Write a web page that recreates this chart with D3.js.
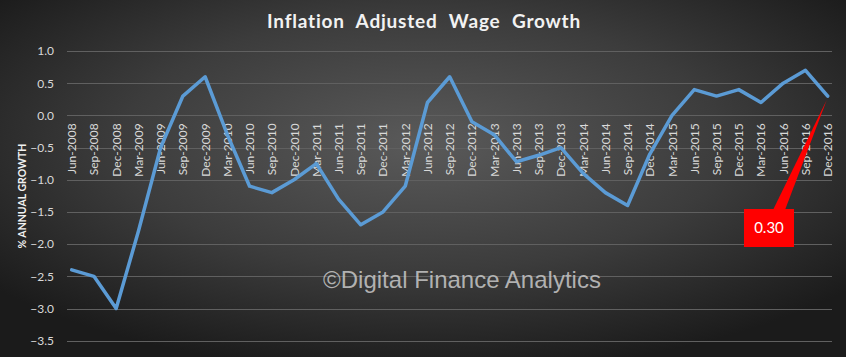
<!DOCTYPE html>
<html>
<head>
<meta charset="utf-8">
<script src="https://cdn.jsdelivr.net/npm/d3@7"></script>
<style>
  html, body { margin: 0; padding: 0; background: #1e1e1e; }
  svg { display: block; }
</style>
</head>
<body>
<svg id="chart" width="846" height="357"></svg>
<script>
const categories = ["Jun-2008","Sep-2008","Dec-2008","Mar-2009","Jun-2009","Sep-2009","Dec-2009","Mar-2010","Jun-2010","Sep-2010","Dec-2010","Mar-2011","Jun-2011","Sep-2011","Dec-2011","Mar-2012","Jun-2012","Sep-2012","Dec-2012","Mar-2013","Jun-2013","Sep-2013","Dec-2013","Mar-2014","Jun-2014","Sep-2014","Dec-2014","Mar-2015","Jun-2015","Sep-2015","Dec-2015","Mar-2016","Jun-2016","Sep-2016","Dec-2016"];
const wageGrowth = [-2.4,-2.5,-3.0,-1.8,-0.5,0.3,0.6,-0.3,-1.1,-1.2,-1.0,-0.75,-1.3,-1.7,-1.5,-1.1,0.2,0.6,-0.1,-0.3,-0.72,-0.62,-0.5,-0.9,-1.2,-1.4,-0.6,0.0,0.4,0.3,0.4,0.2,0.5,0.7,0.3];
const yTicks = [1.0,0.5,0.0,-0.5,-1.0,-1.5,-2.0,-2.5,-3.0,-3.5];
const titleText = "Inflation Adjusted Wage Growth";
const yTitle = "% ANNUAL GROWTH";
const watermark = "\u00A9Digital Finance Analytics";

const svg = d3.select("#chart");
const W = 846, H = 357;

// background radial gradient
const defs = svg.append("defs");
const grad = defs.append("radialGradient").attr("id","bg")
  .attr("cx","50%").attr("cy","40%").attr("r","65%");
grad.append("stop").attr("offset","0%").attr("stop-color","#5a5a5a");
grad.append("stop").attr("offset","55%").attr("stop-color","#3c3c3c");
grad.append("stop").attr("offset","100%").attr("stop-color","#1b1b1b");
svg.append("rect").attr("width",W).attr("height",H).attr("fill","url(#bg)");

const x = d3.scalePoint().domain(categories).range([71.7, 827.7]);
const y = d3.scaleLinear().domain([-3.5, 1.0]).range([340.7, 51]);
const gridX0 = 67, gridX1 = 832;

// gridlines
svg.append("g").selectAll("line").data(yTicks).join("line")
  .attr("x1", gridX0).attr("x2", gridX1)
  .attr("y1", d => Math.round(y(d)) + 0.5).attr("y2", d => Math.round(y(d)) + 0.5)
  .attr("stroke", "#606060").attr("stroke-width", 1);

// y axis labels
const yAxis = d3.axisLeft(y).tickValues(yTicks).tickFormat(d3.format(".1f")).tickSize(0).tickPadding(0);
const gy = svg.append("g").attr("transform", "translate(54,0)").call(yAxis);
gy.select(".domain").remove();
gy.selectAll("text").attr("fill", "#d9d9d9").attr("font-family", "Lato, 'Open Sans', sans-serif").attr("font-size", 12);

// x axis labels (rotated, at the zero line)
const xAxis = d3.axisBottom(x).tickSize(0).tickPadding(0);
const gx = svg.append("g").attr("transform", "translate(0," + y(0) + ")").call(xAxis);
gx.select(".domain").remove();
gx.selectAll("text")
  .attr("fill", "#d9d9d9")
  .attr("font-family", "Lato, 'Open Sans', sans-serif")
  .attr("font-size", 12)
  .attr("text-anchor", "end")
  .attr("transform", "translate(4,8) rotate(-90)")
  .attr("x", 0).attr("y", 0).attr("dy", 0);

// line
const line = d3.line().x((d, i) => x(categories[i])).y(d => y(d));
svg.append("path").datum(wageGrowth)
  .attr("d", line).attr("fill", "none")
  .attr("stroke", "#5b9bd5").attr("stroke-width", 3.5)
  .attr("stroke-linejoin", "round").attr("stroke-linecap", "round");

// title
svg.append("text").attr("x", 424).attr("y", 28).attr("text-anchor", "middle")
  .attr("fill", "#f2f2f2").attr("font-family", "Lato, 'Open Sans', sans-serif")
  .attr("font-weight", "bold").attr("font-size", 19)
  .attr("letter-spacing", 0.8).attr("word-spacing", 6)
  .text(titleText);

// y title
svg.append("text").attr("transform", "translate(26,196) rotate(-90)")
  .attr("text-anchor", "middle").attr("fill", "#f2f2f2")
  .attr("font-family", "Lato, 'Open Sans', sans-serif").attr("font-weight", "bold")
  .attr("font-size", 10.5).text(yTitle);

// watermark
svg.append("text").attr("x", 462).attr("y", 288).attr("text-anchor", "middle")
  .attr("fill", "#c8c8c8").attr("fill-opacity", 0.85)
  .attr("font-family", "'Liberation Sans', Arial, sans-serif").attr("font-size", 24)
  .text(watermark);

// callout
const last = wageGrowth.length - 1;
const px = x(categories[last]), py = y(wageGrowth[last]);
const box = {x: 744, y: 209, w: 50, h: 38};
svg.append("path")
  .attr("d", `M${box.x + 29},${box.y + 1} L${px - 1},${py + 4} L${box.x + 41},${box.y + 1} Z`)
  .attr("fill", "#ff0000");
svg.append("rect").attr("x", box.x).attr("y", box.y).attr("width", box.w).attr("height", box.h)
  .attr("fill", "#ff0000");
svg.append("text").attr("x", box.x + box.w / 2).attr("y", box.y + box.h / 2).attr("dy", "0.35em")
  .attr("text-anchor", "middle").attr("fill", "#ffffff")
  .attr("font-family", "Lato, 'Open Sans', sans-serif").attr("font-size", 15)
  .text(wageGrowth[last].toFixed(2));
</script>
</body>
</html>
